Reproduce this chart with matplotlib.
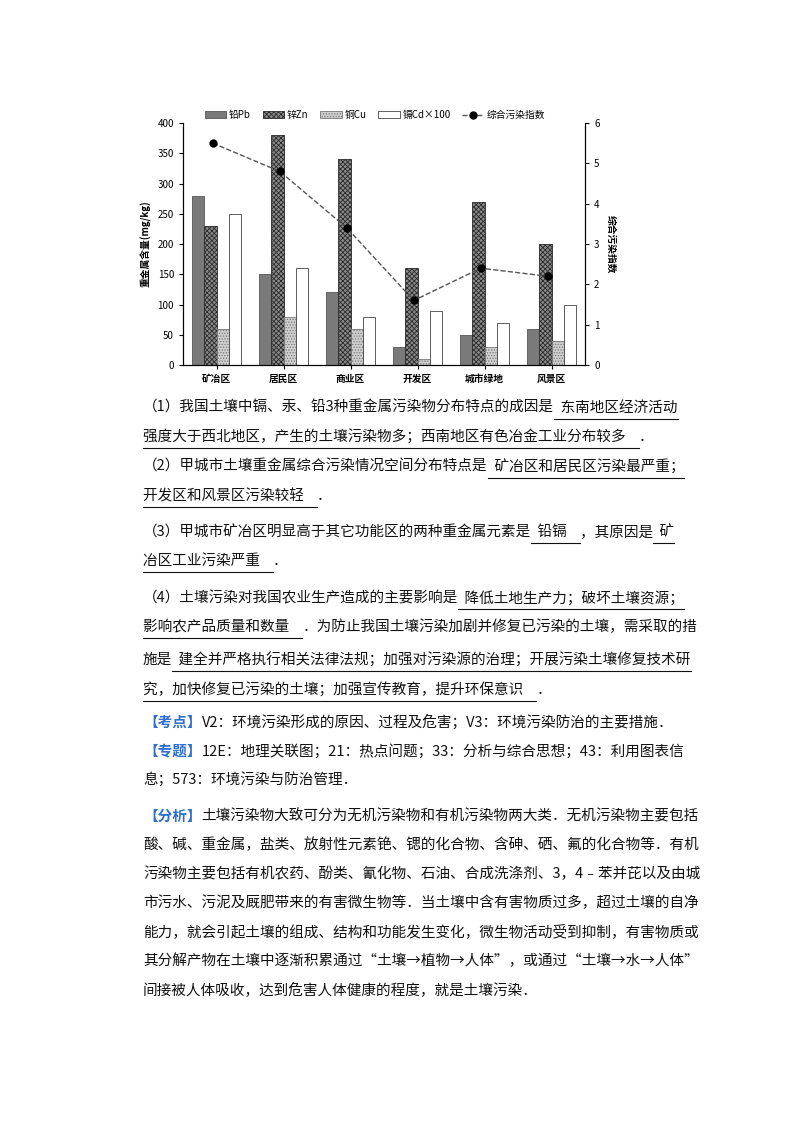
import matplotlib
matplotlib.use("Agg")
import matplotlib.pyplot as plt
import numpy as np

plt.rcParams['font.family'] = ['Noto Sans CJK SC', 'DejaVu Sans']
plt.rcParams['hatch.linewidth'] = 0.6

categories = ['矿冶区', '居民区', '商业区', '开发区', '城市绿地', '风景区']
pb = [280, 150, 120, 30, 50, 60]
zn = [230, 380, 340, 160, 270, 200]
cu = [60, 80, 60, 10, 30, 40]
cd100 = [250, 160, 80, 90, 70, 100]
index = [5.5, 4.8, 3.4, 1.6, 2.4, 2.2]
series_names = ['铅Pb', '锌Zn', '铜Cu', '镉Cd×100', '综合污染指数']

W, H = 800, 1132
fig = plt.figure(figsize=(8, 11.32), dpi=100)
ax = fig.add_axes([183/W, 1-365/H, (585-183)/W, (365-123)/H])
x = np.arange(len(categories))
w = 0.185
styles = [dict(color='#7a7a7a', edgecolor='#555555'),
          dict(color='#8a8a8a', edgecolor='#2a2a2a', hatch='xxxxxxx'),
          dict(color='#cfcfcf', edgecolor='#777777', hatch='......'),
          dict(color='white', edgecolor='#444444')]
handles = []
for i, (vals, st) in enumerate(zip([pb, zn, cu, cd100], styles)):
    b = ax.bar(x + (i - 1.5) * w, vals, w, linewidth=0.6, label=series_names[i], **st)
    handles.append(b)
ax.set_ylim(0, 400)
ax.set_yticks(range(0, 401, 50))
ax.set_xlim(-0.5, 5.5)
ax.set_xticks(x)
ax.set_xticklabels(categories, fontsize=7, fontweight='bold')
ax.tick_params(axis='both', labelsize=7, length=3)
ax.set_ylabel('重金属含量(mg/kg)', fontsize=7, fontweight='bold')
ax.spines['top'].set_visible(False)
ax2 = ax.twinx()
ln, = ax2.plot(x - 0.3 * w, index, '--', color='#555555', lw=1, marker='o', mfc='black', mec='black', ms=5, label=series_names[4])
ax2.set_ylim(0, 6)
ax2.set_yticks(range(0, 7))
ax2.tick_params(labelsize=7, length=3)
ax2.spines['top'].set_visible(False)
ax2.set_ylabel('综合污染指数', fontsize=7, fontweight='bold', rotation=270, labelpad=12)
handles.append(ln)
fig.legend(handles=handles, labels=series_names, loc='center', bbox_to_anchor=(375/W, 1-115/H),
           ncol=5, frameon=False, fontsize=7, handlelength=2.2, columnspacing=1.2, handletextpad=0.3)

BLUE = '#2e6fd0'
lines = [
    (408, [("（1）我国土壤中镉、汞、铅3种重金属污染物分布特点的成因是", 0), ("  东南地区经济活动", 1)]),
    (437, [("强度大于西北地区，产生的土壤污染物多；西南地区有色冶金工业分布较多    ", 1), ("．", 0)]),
    (467, [("（2）甲城市土壤重金属综合污染情况空间分布特点是", 0), ("  矿冶区和居民区污染最严重；", 1)]),
    (496, [("开发区和风景区污染较轻    ", 1), ("．", 0)]),
    (532, [("（3）甲城市矿冶区明显高于其它功能区的两种重金属元素是", 0), ("  铅镉    ", 1), ("，其原因是", 0), ("  矿", 1)]),
    (561, [("冶区工业污染严重    ", 1), ("．", 0)]),
    (598, [("（4）土壤污染对我国农业生产造成的主要影响是", 0), ("  降低土地生产力；破坏土壤资源；", 1)]),
    (627, [("影响农产品质量和数量    ", 1), ("．为防止我国土壤污染加剧并修复已污染的土壤，需采取的措", 0)]),
    (660, [("施是", 0), ("  建全并严格执行相关法律法规；加强对污染源的治理；开展污染土壤修复技术研", 1)]),
    (690, [("究，加快修复已污染的土壤；加强宣传教育，提升环保意识    ", 1), ("．", 0)]),
    (722, [("【考点】", 2), ("V2：环境污染形成的原因、过程及危害；V3：环境污染防治的主要措施．", 0)]),
    (751, [("【专题】", 2), ("12E：地理关联图；21：热点问题；33：分析与综合思想；43：利用图表信", 0)]),
    (780, [("息；573：环境污染与防治管理．", 0)]),
    (816, [("【分析】", 2), ("土壤污染物大致可分为无机污染物和有机污染物两大类．无机污染物主要包括", 0)]),
    (845, [("酸、碱、重金属，盐类、放射性元素铯、锶的化合物、含砷、硒、氟的化合物等．有机", 0)]),
    (874, [("污染物主要包括有机农药、酚类、氰化物、石油、合成洗涤剂、3，4﹣苯并芘以及由城", 0)]),
    (903, [("市污水、污泥及厩肥带来的有害微生物等．当土壤中含有害物质过多，超过土壤的自净", 0)]),
    (932, [("能力，就会引起土壤的组成、结构和功能发生变化，微生物活动受到抑制，有害物质或", 0)]),
    (961, [("其分解产物在土壤中逐渐积累通过“土壤→植物→人体”，或通过“土壤→水→人体”", 0)]),
    (990, [("间接被人体吸收，达到危害人体健康的程度，就是土壤污染．", 0)]),
]
r = fig.canvas.get_renderer()
for y, segs in lines:
    xp = 143
    for txt, kind in segs:
        t = fig.text(xp / W, 1 - y / H, txt, fontsize=10.5, va='center', ha='left',
                     color=BLUE if kind == 2 else '#111111',
                     fontweight='bold' if kind == 2 else 'normal')
        wpx = t.get_window_extent(r).width
        if kind == 1:
            fig.add_artist(plt.Line2D([xp / W, (xp + wpx) / W], [1 - (y + 11) / H] * 2, color='#111111', lw=0.8))
        xp += wpx

fig.savefig('out.png', dpi=100)
